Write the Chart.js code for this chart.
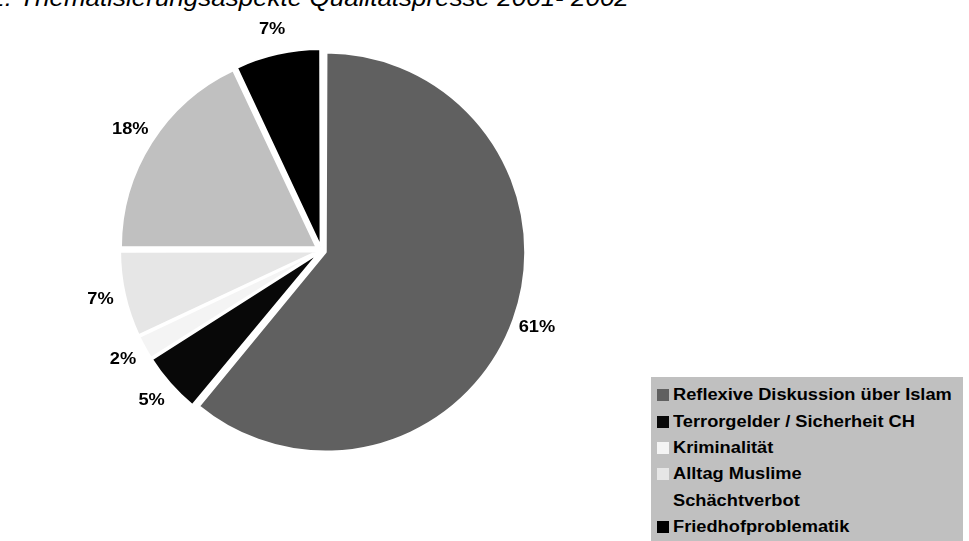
<!DOCTYPE html>
<html>
<head>
<meta charset="utf-8">
<script src="https://cdn.jsdelivr.net/npm/chart.js@4/dist/chart.umd.min.js"></script>
<style>
  body { margin: 0; background: #fff; }
  #wrap { position: relative; width: 969px; height: 541px; overflow: hidden; font-family: "Liberation Sans", Arial, sans-serif; }
  #pie { position: absolute; left: 0; top: 0; }
  #title { position: absolute; right: 340px; top: -13px; font-size: 23px; line-height: 23px; font-style: italic; white-space: nowrap; color: #000; transform: scaleX(1.13); transform-origin: right center; }
  #legend { position: absolute; left: 651px; top: 377px; width: 312px; height: 170px; background: #c0c0c0; padding: 5px 0 0 6px; box-sizing: border-box; }
  .row { height: 26.4px; display: flex; align-items: center; }
  .mark { width: 12px; height: 12px; margin-right: 4px; flex: none; }
  .txt { font-weight: bold; font-size: 16px; transform: scaleX(1.14); transform-origin: left center; white-space: nowrap; color: #000; }
</style>
</head>
<body>
<div id="wrap">
  <div id="title">Abbildung 2: Thematisierungsaspekte Qualitätspresse 2001- 2002</div>
  <canvas id="pie" width="643" height="501"></canvas>
  <div id="legend"></div>
</div>
<script>
const categories = ['Reflexive Diskussion über Islam', 'Terrorgelder / Sicherheit CH', 'Kriminalität', 'Alltag Muslime', 'Schächtverbot', 'Friedhofproblematik'];
const shares = [61, 5, 2, 7, 18, 7];
const shareLabels = ['61%', '5%', '2%', '7%', '18%', '7%'];
const sliceColors = ['#606060', '#080808', '#f4f4f4', '#e6e6e6', '#c0c0c0', '#000000'];

// how far each slice is pulled out (px)
function shiftOf(i) { return i === 0 ? 9 : 6.5; }

// chart.js moves an arc by offset/4 * (1 + fix), so undo that
function offsetFor(ctx) {
  const i = ctx.dataIndex;
  const total = shares.reduce((a, b) => a + b, 0);
  const circ = shares[i] / total * Math.PI * 2;
  const fix = 1 - Math.sin(Math.min(Math.PI, circ));
  return 4 * shiftOf(i) / (1 + fix);
}

const pctLabels = {
  id: 'pctLabels',
  afterDatasetsDraw(chart) {
    const meta = chart.getDatasetMeta(0);
    const c = chart.ctx;
    c.save();
    c.font = 'bold 16px "Liberation Sans", Arial, sans-serif';
    c.fillStyle = '#000';
    c.textAlign = 'center';
    c.textBaseline = 'middle';
    meta.data.forEach((arc, i) => {
      const p = arc.getProps(['x', 'y', 'startAngle', 'endAngle', 'outerRadius'], true);
      const mid = (p.startAngle + p.endAngle) / 2;
      const r = p.outerRadius + shiftOf(i) + 25;
      c.save();
      c.translate(p.x + Math.cos(mid) * r, p.y + Math.sin(mid) * r);
      c.scale(1.14, 1);
      c.fillText(shareLabels[i], 0, 0);
      c.restore();
    });
    c.restore();
  }
};

new Chart(document.getElementById('pie'), {
  type: 'pie',
  data: {
    labels: categories,
    datasets: [{
      data: shares,
      backgroundColor: sliceColors,
      borderColor: '#ffffff',
      borderWidth: 2,
      offset: offsetFor,
      radius: 195
    }]
  },
  options: {
    responsive: false,
    devicePixelRatio: 1,
    animation: false,
    events: [],
    layout: { padding: 0 },
    plugins: { legend: { display: false }, tooltip: { enabled: false } }
  },
  plugins: [pctLabels]
});

const legend = document.getElementById('legend');
categories.forEach((name, i) => {
  const row = document.createElement('div');
  row.className = 'row';
  row.innerHTML = '<span class="mark" style="background:' + sliceColors[i] + '"></span><span class="txt">' + name + '</span>';
  legend.appendChild(row);
});
</script>
</body>
</html>
